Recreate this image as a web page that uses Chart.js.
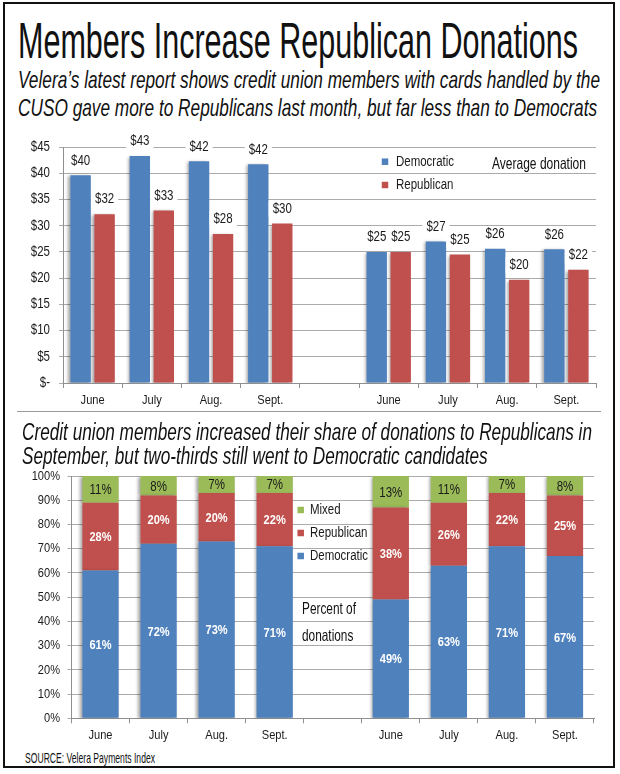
<!DOCTYPE html>
<html><head><meta charset="utf-8">
<title>Members Increase Republican Donations</title>
<script src="https://cdn.jsdelivr.net/npm/chart.js@4.4.1/dist/chart.umd.min.js"></script>
<style>
html,body{margin:0;padding:0;background:#fff}
body{width:620px;height:774px;position:relative;overflow:hidden;font-family:'Liberation Sans',Arial,sans-serif;color:#111}
#frame{position:absolute;left:3px;top:2px;width:608px;height:762px;border:2.5px solid #111}
.t{position:absolute;white-space:nowrap;line-height:1;transform-origin:0 0}
.it{font-style:italic}
#sep{position:absolute;left:17px;top:411px;width:584px;height:0;border-top:1.5px solid #9a9a9a}
#c1w{position:absolute;left:0;top:130px;width:620px;height:285px}
#c2w{position:absolute;left:0;top:466px;width:620px;height:282px}
</style></head>
<body>
<div id="frame"></div>
<div id="c1w"><canvas id="c1"></canvas></div>
<div id="c2w"><canvas id="c2"></canvas></div>
<div id="sep"></div>
<div class="t" data-w="560" style="left:18px;top:15.7px;font-size:50px">Members Increase Republican Donations</div>
<div class="t it" data-w="582" data-g="s1" style="left:18px;top:67.7px;font-size:24px">Velera’s latest report shows credit union members with cards handled by the</div>
<div class="t it" data-g="s1" style="left:18px;top:95.7px;font-size:24px">CUSO gave more to Republicans last month, but far less than to Democrats</div>
<div class="t" data-w="94" style="left:492px;top:155px;font-size:16.5px">Average donation</div>
<div class="t it" data-w="570" data-g="s2" style="left:22px;top:419.7px;font-size:24px">Credit union members increased their share of donations to Republicans in</div>
<div class="t it" data-g="s2" style="left:22px;top:443.7px;font-size:24px">September, but two-thirds still went to Democratic candidates</div>
<div class="t" data-w="54" data-g="pd" style="left:302px;top:599.5px;font-size:16.5px">Percent of</div>
<div class="t" data-g="pd" style="left:302px;top:626.5px;font-size:16.5px">donations</div>
<div class="t" data-w="130" style="left:25px;top:751px;font-size:14.5px">SOURCE: Velera Payments Index</div>
<script>
// ---- data ----
const months = ['June','July','Aug.','Sept.','','June','July','Aug.','Sept.'];
const avgDemocratic = [39.6, 43.3, 42.3, 41.7, null, 25.0, 27.0, 25.6, 25.5];
const avgRepublican = [32.2, 32.9, 28.4, 30.4, null, 25.0, 24.5, 19.7, 21.6];
const shareDemocratic = [61, 72, 73, 71, null, 49, 63, 71, 67];
const shareRepublican = [28, 20, 20, 22, null, 38, 26, 22, 25];
const shareMixed = [11, 8, 7, 7, null, 13, 11, 7, 8];
const avgTicks = {min: 0, max: 45, step: 5};
const shareTicks = {min: 0, max: 100, step: 10};

// ---- text fitting ----
function fitTexts(){
  const groups = {};
  const els = Array.from(document.querySelectorAll('.t'));
  els.forEach(el => { el.style.transform = 'none'; });
  els.filter(el => el.dataset.w).forEach(el => {
    const w = el.getBoundingClientRect().width;
    const s = parseFloat(el.dataset.w) / w;
    if (el.dataset.g) groups[el.dataset.g] = s;
    el.style.transform = 'scaleX(' + s + ')';
  });
  els.filter(el => !el.dataset.w && el.dataset.g).forEach(el => {
    el.style.transform = 'scaleX(' + groups[el.dataset.g] + ')';
  });
}
fitTexts();

const FONT = "'Liberation Sans',Arial,sans-serif";
const SX = 0.82; // narrow (condensed) rendering factor
const BLUE = '#4F81BD', RED = '#C0504D', GREEN = '#9BBB59';
const TXT = '#1a1a1a', GRID = '#ababab', AXIS = '#8f8f8f';
Chart.defaults.font.family = FONT;
Chart.defaults.color = TXT;
Chart.defaults.animation = false;

function cText(c, txt, x, y, align){
  c.save();
  c.translate(x, y);
  c.scale(SX, 1);
  c.textAlign = align;
  c.textBaseline = 'middle';
  c.fillText(txt, 0, 0);
  c.restore();
}

const shadow = {
  id: 'shadow',
  beforeDatasetsDraw(chart){
    const c = chart.ctx; c.save();
    c.shadowColor = 'rgba(0,0,0,0.35)'; c.shadowBlur = 3; c.shadowOffsetX = -2; c.shadowOffsetY = 1;
  },
  afterDatasetsDraw(chart){ chart.ctx.restore(); }
};

const narrowTicks = {
  id: 'narrowTicks',
  afterDraw(chart, args, opts){
    const c = chart.ctx, xs = chart.scales.x, ys = chart.scales.y;
    c.save();
    c.fillStyle = TXT;
    c.font = opts.ySize + 'px ' + FONT;
    ys.ticks.forEach((t, i) => {
      cText(c, opts.yFmt(t.value), ys.right - opts.yGap, ys.getPixelForTick(i), 'right');
    });
    c.font = opts.xSize + 'px ' + FONT;
    xs.ticks.forEach((t, i) => {
      cText(c, xs.getLabelForValue(t.value), xs.getPixelForTick(i), xs.top + opts.xGap, 'center');
    });
    c.restore();
  }
};

const valueLabels = {
  id: 'valueLabels',
  afterDatasetsDraw(chart, args, opts){
    const c = chart.ctx;
    chart.data.datasets.forEach((ds, i) => {
      const meta = chart.getDatasetMeta(i);
      const st = opts.styles[i];
      meta.data.forEach((bar, j) => {
        const v = ds.data[j];
        if (v == null) return;
        const txt = opts.format(v);
        c.save();
        c.font = (st.bold ? 'bold ' : '') + st.size + 'px ' + FONT;
        let y;
        if (opts.mode === 'above') {
          y = bar.y - opts.offset;
          const w = c.measureText(txt).width * SX;
          c.fillStyle = '#fff';
          c.fillRect(bar.x - w/2 - 4, y - 8, w + 8, 16);
        } else {
          y = (bar.y + bar.base) / 2 + 1;
        }
        c.fillStyle = st.color;
        cText(c, txt, bar.x, y, 'center');
        c.restore();
      });
    });
  }
};

const insideLegend = {
  id: 'insideLegend',
  afterDraw(chart, args, opts){
    const c = chart.ctx;
    opts.order.forEach((idx, k) => {
      const ds = chart.data.datasets[idx];
      const y = opts.y + k * opts.dy;
      c.save();
      c.fillStyle = ds.backgroundColor;
      c.fillRect(opts.x - 3.25, y - 3.25, 6.5, 6.5);
      c.fillStyle = TXT;
      c.font = '14px ' + FONT;
      cText(c, ds.label, opts.tx, y + 0.5, 'left');
      c.restore();
    });
  }
};

new Chart(document.getElementById('c1'), {
  type: 'bar',
  data: {
    labels: months,
    datasets: [
      {label: 'Democratic', data: avgDemocratic, backgroundColor: BLUE, categoryPercentage: 0.81, barPercentage: 0.85},
      {label: 'Republican', data: avgRepublican, backgroundColor: RED, categoryPercentage: 0.81, barPercentage: 0.85}
    ]
  },
  options: {
    responsive: true, maintainAspectRatio: false, animation: false,
    layout: {padding: {top: 17, right: 24, bottom: 0, left: 0}},
    plugins: {
      legend: {display: false}, tooltip: {enabled: false},
      valueLabels: {mode: 'above', offset: 14.5, format: v => '$' + Math.round(v),
        styles: [{size: 14, color: TXT}, {size: 14, color: TXT}]},
      insideLegend: {order: [0, 1], x: 385, tx: 396, y: 31.7, dy: 23.3},
      narrowTicks: {ySize: 14, yGap: 13, yFmt: v => v === 0 ? '$-' : '$' + v, xSize: 13.5, xGap: 17}
    },
    scales: {
      x: {
        grid: {offset: true, drawOnChartArea: false, tickLength: 5, color: AXIS},
        border: {color: AXIS},
        ticks: {display: false, autoSkip: false},
        afterFit(s){ s.height = 32; }
      },
      y: {
        min: avgTicks.min, max: avgTicks.max,
        ticks: {display: false, stepSize: avgTicks.step},
        grid: {color: GRID, tickLength: 4},
        border: {color: AXIS},
        afterFit(s){ s.width = 63; }
      }
    }
  },
  plugins: [shadow, valueLabels, insideLegend, narrowTicks]
});

new Chart(document.getElementById('c2'), {
  type: 'bar',
  data: {
    labels: months,
    datasets: [
      {label: 'Democratic', data: shareDemocratic, backgroundColor: BLUE, categoryPercentage: 1, barPercentage: 0.625},
      {label: 'Republican', data: shareRepublican, backgroundColor: RED, categoryPercentage: 1, barPercentage: 0.625},
      {label: 'Mixed', data: shareMixed, backgroundColor: GREEN, categoryPercentage: 1, barPercentage: 0.625}
    ]
  },
  options: {
    responsive: true, maintainAspectRatio: false, animation: false,
    layout: {padding: {top: 10, right: 26, bottom: 0, left: 0}},
    plugins: {
      legend: {display: false}, tooltip: {enabled: false},
      valueLabels: {mode: 'center', format: v => v + '%',
        styles: [{size: 13.5, color: '#ffffff', bold: true}, {size: 13.5, color: '#ffffff', bold: true}, {size: 14, color: TXT}]},
      insideLegend: {order: [2, 1, 0], x: 300.7, tx: 310, y: 44, dy: 23},
      narrowTicks: {ySize: 13.5, yGap: 11.5, yFmt: v => v + '%', xSize: 13.5, xGap: 17}
    },
    scales: {
      x: {
        stacked: true,
        grid: {offset: true, drawOnChartArea: false, tickLength: 5, color: AXIS},
        border: {color: AXIS},
        ticks: {display: false, autoSkip: false},
        afterFit(s){ s.height = 29.7; }
      },
      y: {
        stacked: true,
        min: shareTicks.min, max: shareTicks.max,
        ticks: {display: false, stepSize: shareTicks.step},
        grid: {color: GRID, tickLength: 4},
        border: {color: AXIS},
        afterFit(s){ s.width = 71.5; }
      }
    }
  },
  plugins: [shadow, valueLabels, insideLegend, narrowTicks]
});
</script>
</body></html>
